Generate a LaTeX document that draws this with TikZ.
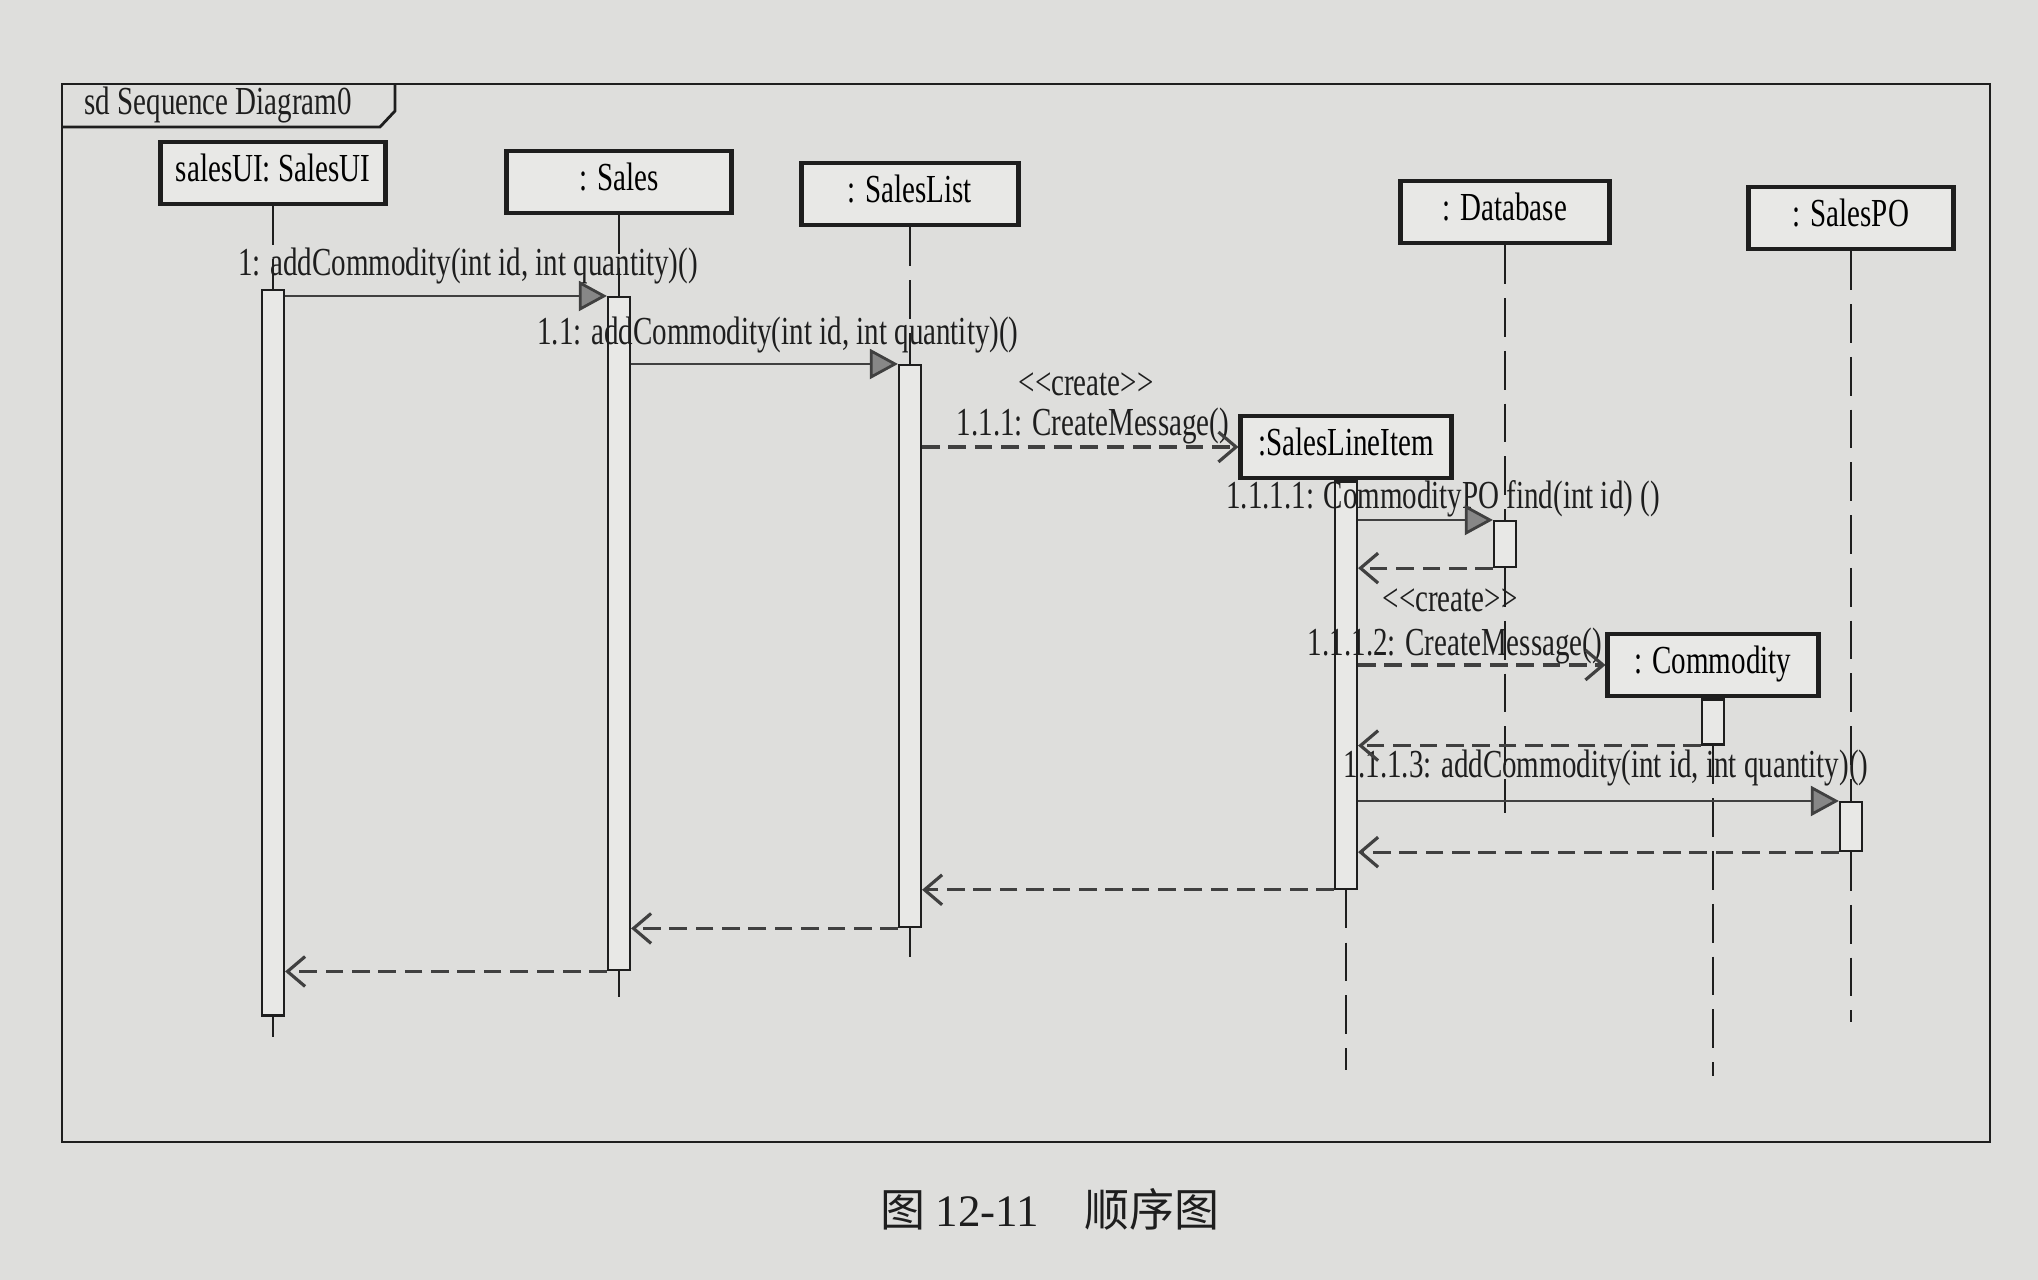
\documentclass[tikz,border=0pt]{standalone}
\usepackage{fontspec}
\setmainfont{Liberation Serif}[FakeStretch=0.73]
\newfontfamily\capfont{Liberation Serif}
\newfontfamily\cjk{Noto Sans CJK SC}
\usepackage{tikz}
\usetikzlibrary{arrows.meta,positioning,calc}
\definecolor{pagegray}{RGB}{222,222,220}
\definecolor{boxgray}{RGB}{232,232,230}
\definecolor{ink}{RGB}{30,30,30}
\definecolor{tipgray}{RGB}{135,135,135}

\begin{document}
\begin{tikzpicture}[x=0.01cm, y=-0.01cm,
  head/.style={draw=ink, line width=1.4pt, fill=boxgray, font=\fontsize{11.3}{13}\selectfont,
               minimum height=0.62cm, inner sep=2pt, text height=8pt, text depth=3pt},
  act/.style={draw=ink, line width=0.6pt, fill=boxgray, minimum width=0.22cm, inner sep=0pt, anchor=north},
  life/.style={draw=ink, line width=0.6pt, dash pattern=on 11pt off 4pt},
  tail/.style={draw=ink, line width=0.6pt},
  msg/.style={font=\fontsize{11.3}{13}\selectfont, inner sep=0.5pt, text=ink},
  call/.style={draw=ink!85, line width=0.8pt, -{Triangle[length=8pt, width=8.5pt, fill=tipgray]}},
  ret/.style={draw=ink!85, line width=0.9pt, dash pattern=on 5pt off 2.5pt, -{Straight Barb[length=5pt, width=8.5pt]}},
  node distance=0pt]
\useasboundingbox (0,0) rectangle (2038,1280);
\fill[pagegray] (0,0) rectangle (2038,1280);
\draw[ink, line width=0.8pt] (62,84) rectangle (1990,1142);
\draw[ink, line width=0.8pt] (62,127) -- (380,127) -- (395,111) -- (395,84);
\node[msg, anchor=west] (title) at (82,105) {sd Sequence Diagram0};
\node[head, minimum width=2.25cm] (uihead) at (273,173) {salesUI: SalesUI};
\node[head, minimum width=2.25cm] (saleshead) at (619,182) {: Sales};
\node[head, minimum width=2.17cm] (listhead) at (910,194) {: SalesList};
\node[head, minimum width=2.08cm] (dbhead) at (1505,212) {: Database};
\node[head, minimum width=2.04cm] (pohead) at (1851,218) {: SalesPO};
\node[head, minimum width=2.1cm] (itemhead) at (1346,447) {:SalesLineItem};
\node[head, minimum width=2.1cm] (comhead) at (1713,665) {: Commodity};
\node[act, minimum height=7.25cm] (uiact) at (273,289) {};
\node[act, minimum height=6.73cm] (salesact) at (619,296) {};
\node[act, minimum height=5.62cm] (listact) at (910,364) {};
\node[act, below=of itemhead, minimum height=4.07cm] (itemact) {};
\node[act, minimum height=0.46cm] (dbact) at (1505,520) {};
\node[act, below=of comhead, minimum height=0.45cm] (comact) {};
\node[act, minimum height=0.49cm] (poact) at (1851,801) {};
\draw[life] (uihead) -- (uiact);
\draw[life] (saleshead) -- (salesact);
\draw[life] (listhead) -- (listact);
\draw[life] (dbhead) -- (dbact);
\draw[life] (pohead) -- (poact);
\draw[tail] (uiact.south) -- ++(0,20);
\draw[tail] (salesact.south) -- ++(0,26);
\draw[tail] (listact.south) -- ++(0,29);
\draw[life] (itemact.south) -- ++(0,180);
\draw[life] (comact.south) -- ++(0,330);
\draw[life] (dbact.south) -- ++(0,245);
\draw[life] (poact.south) -- ++(0,170);
\node[msg] (m1) at (468,266) {1: addCommodity(int id, int quantity)()};
\node[msg] (m2) at (778,335) {1.1: addCommodity(int id, int quantity)()};
\node[msg] (s1) at (1086,384) {{<}{<}create{>}{>}};
\node[msg] (m3) at (1093,426) {1.1.1: CreateMessage()};
\node[msg] (m4) at (1443,499) {1.1.1.1: CommodityPO find(int id) ()};
\node[msg] (s2) at (1450,600) {{<}{<}create{>}{>}};
\node[msg] (m5) at (1455,646) {1.1.1.2: CreateMessage()};
\node[msg] (m6) at (1606,768) {1.1.1.3: addCommodity(int id, int quantity)()};
\draw[call] (uiact.east |- salesact.north) -- (salesact.north west);
\draw[call] (salesact.east |- listact.north) -- (listact.north west);
\draw[ret] (listact.east |- itemhead.west) -- (itemhead.west);
\draw[call] (itemact.east |- dbact.north) -- (dbact.north west);
\draw[ret] (dbact.south west) -- (itemact.east |- dbact.south);
\draw[ret] (itemact.east |- comhead.west) -- (comhead.west);
\draw[ret] (comact.south west) -- (itemact.east |- comact.south);
\draw[call] (itemact.east |- poact.north) -- (poact.north west);
\draw[ret] (poact.south west) -- (itemact.east |- poact.south);
\draw[ret] (itemact.south west) -- (listact.east |- itemact.south);
\draw[ret] (listact.south west) -- (salesact.east |- listact.south);
\draw[ret] (salesact.south west) -- (uiact.east |- salesact.south);
\node[font=\fontsize{12.8}{15}\selectfont, text=ink] (caption) at (1050,1209) {\cjk 图 \capfont 12-11\quad\cjk 顺序图};
\end{tikzpicture}
\end{document}
